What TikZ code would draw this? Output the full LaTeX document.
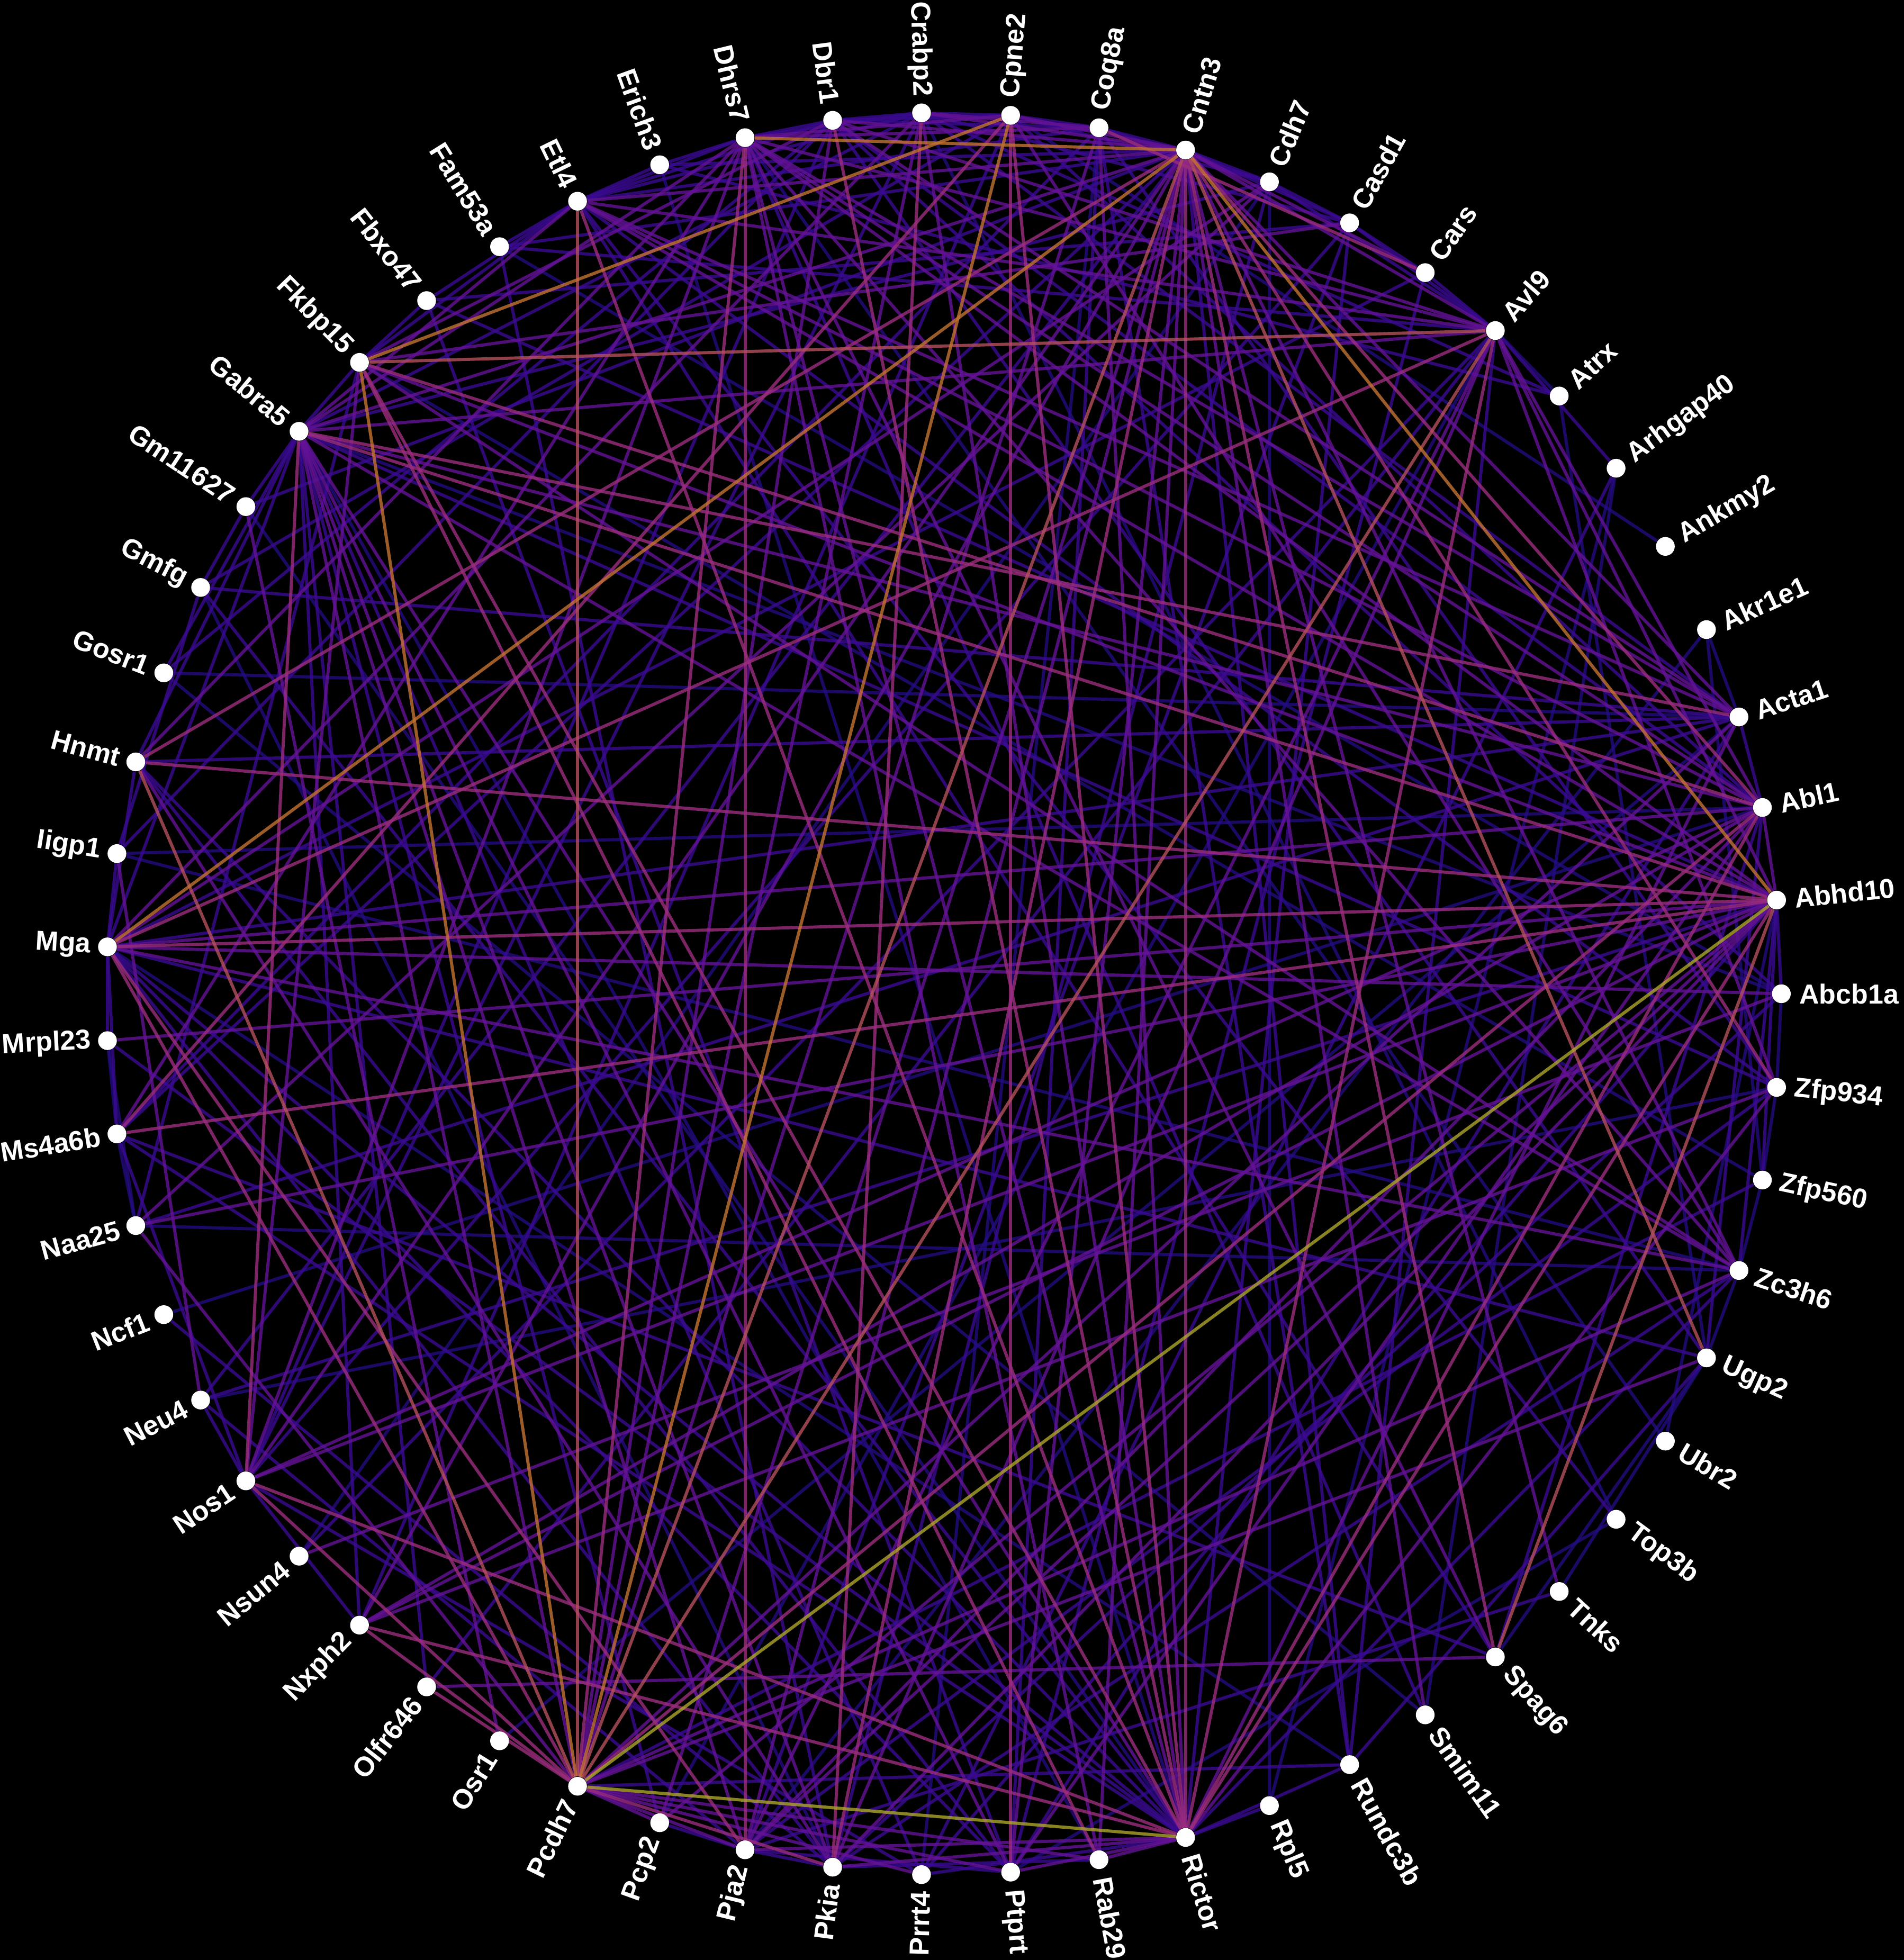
\documentclass[tikz,border=0pt]{standalone}
\usepackage{fontspec}
\setmainfont{Liberation Sans}

\definecolor{kfarbe1}{RGB}{36,12,128}
\definecolor{kfarbe2}{RGB}{58,10,145}
\definecolor{kfarbe3}{RGB}{100,18,150}
\definecolor{kfarbe4}{RGB}{155,45,125}
\definecolor{kfarbe5}{RGB}{180,80,92}
\definecolor{kfarbe6}{RGB}{196,115,50}
\definecolor{kfarbe7}{RGB}{172,166,42}

\pgfdeclarelayer{hintergrund}
\pgfdeclarelayer{kanten}
\pgfsetlayers{hintergrund,kanten,main}

\tikzset{
	punkt/.style={circle, fill=white, draw=none, inner sep=0pt, minimum size=7.5pt},
	beschriftung/.style={text=white, inner sep=0pt, font=\bfseries\fontsize{11}{13}\selectfont},
	kante/.style={line width=1.25pt, opacity=0.8},
	k1/.style={kante, draw=kfarbe1},
	k2/.style={kante, draw=kfarbe2},
	k3/.style={kante, draw=kfarbe3},
	k4/.style={kante, draw=kfarbe4},
	k5/.style={kante, draw=kfarbe5},
	k6/.style={kante, draw=kfarbe6},
	k7/.style={kante, draw=kfarbe7}
}

\begin{document}
\begin{tikzpicture}[x=0.5pt, y=0.5pt]
	\useasboundingbox (-755,-773) rectangle (768,795);
	\begin{pgfonlayer}{hintergrund}
		\fill[black] (-755,-773) rectangle (768,795);
	\end{pgfonlayer}

	% Gene im Kreis
	\foreach \gen [count=\i from 0] in {Abcb1a,Abhd10,Abl1,Acta1,Akr1e1,Ankmy2,
		Arhgap40,Atrx,Avl9,Cars,Casd1,Cdh7,Cntn3,Coq8a,Cpne2,Crabp2,Dbr1,Dhrs7,
		Erich3,Etl4,Fam53a,Fbxo47,Fkbp15,Gabra5,Gm11627,Gmfg,Gosr1,Hnmt,Iigp1,Mga,
		Mrpl23,Ms4a6b,Naa25,Ncf1,Neu4,Nos1,Nsun4,Nxph2,Olfr646,Osr1,Pcdh7,Pcp2,
		Pja2,Pkia,Prrt4,Ptprt,Rab29,Rictor,Rpl5,Rundc3b,Smim11,Spag6,Tnks,Top3b,
		Ubr2,Ugp2,Zc3h6,Zfp560,Zfp934} {
		\pgfmathsetmacro{\winkel}{\i*6.101695}
		\node[punkt] (\gen) at ({670*cos(\winkel)}, {705*sin(\winkel)}) {};
		\pgfmathtruncatemacro{\links}{(\winkel>90) && (\winkel<270)}
		\ifnum\links=1
			\pgfmathsetmacro{\dreh}{\winkel-180}
			\node[beschriftung, rotate=\dreh, anchor=east] (t\gen)
				at ({683*cos(\winkel)}, {718*sin(\winkel)}) {\gen};
		\else
			\node[beschriftung, rotate=\winkel, anchor=west] (t\gen)
				at ({684*cos(\winkel)}, {719*sin(\winkel)}) {\gen};
		\fi
	}

	\begin{pgfonlayer}{kanten}
	% schwache Kanten
	\foreach \a/\b in {Gosr1/Acta1, Atrx/Ugp2, Ubr2/Abhd10, Cdh7/Rpl5, Ankmy2/Cpne2,
		Akr1e1/Pja2, Akr1e1/Zfp560, Avl9/Atrx, Arhgap40/Rpl5, Abcb1a/Zfp934,
		Zfp560/Zc3h6, Zc3h6/Ugp2, Top3b/Ptprt, Tnks/Ugp2, Spag6/Ugp2,
		Smim11/Arhgap40, Naa25/Ms4a6b, Ms4a6b/Mrpl23, Mrpl23/Naa25, Acta1/Akr1e1,
		Zfp934/Zfp560, Iigp1/Abl1, Gm11627/Rictor, Gmfg/Pkia, Neu4/Zfp934,
		Naa25/Zc3h6, Erich3/Rictor, Fam53a/Abcb1a, Osr1/Acta1, Nsun4/Cdh7,
		Pcp2/Avl9, Prrt4/Coq8a, Rab29/Gabra5, Rundc3b/Mga, Smim11/Gosr1,
		Top3b/Crabp2, Ubr2/Dhrs7, Zfp560/Fkbp15, Abcb1a/Gabra5, Ncf1/Abl1,
		Iigp1/Zc3h6}
		\draw[k1] (\a) -- (\b);
	\foreach \a/\b in {Ugp2/Abl1, Gmfg/Acta1, Mga/Ugp2, Ms4a6b/Spag6, Nsun4/Avl9,
		Fbxo47/Abhd10, Fam53a/Pkia, Erich3/Atrx, Arhgap40/Prrt4, Rpl5/Rictor,
		Cars/Mga, Cars/Ptprt, Avl9/Rundc3b, Cntn3/Rundc3b, Cntn3/Casd1, Cntn3/Cdh7,
		Cntn3/Coq8a, Cntn3/Erich3, Cntn3/Neu4, Cntn3/Ms4a6b, Cntn3/Gm11627,
		Cntn3/Fam53a, Pcdh7/Rundc3b, Pcdh7/Zfp560, Rictor/Prrt4, Rictor/Zc3h6,
		Rictor/Rundc3b, Rictor/Mga, Rictor/Hnmt, Rictor/Casd1, Abhd10/Zc3h6,
		Abhd10/Abcb1a, Abhd10/Zfp560, Abl1/Acta1, Abl1/Cpne2, Abl1/Dbr1,
		Avl9/Casd1, Avl9/Cars, Avl9/Arhgap40, Fkbp15/Gabra5, Fkbp15/Fbxo47,
		Fkbp15/Etl4, Fkbp15/Naa25, Gabra5/Gm11627, Gabra5/Prrt4, Gabra5/Mga,
		Gabra5/Pcp2, Gabra5/Nxph2, Gabra5/Zfp934, Dhrs7/Etl4, Dhrs7/Erich3,
		Dhrs7/Dbr1, Dhrs7/Crabp2, Dhrs7/Smim11, Etl4/Erich3, Etl4/Fam53a,
		Etl4/Fbxo47, Etl4/Crabp2, Etl4/Coq8a, Etl4/Zfp934, Etl4/Spag6,
		Crabp2/Cpne2, Crabp2/Casd1, Crabp2/Atrx, Crabp2/Acta1, Crabp2/Nos1,
		Crabp2/Gabra5, Cpne2/Coq8a, Cpne2/Dbr1, Cpne2/Cdh7, Cpne2/Nxph2,
		Cpne2/Gmfg, Coq8a/Cdh7, Coq8a/Dbr1, Coq8a/Zfp934, Coq8a/Ptprt,
		Coq8a/Ms4a6b, Dbr1/Etl4, Dbr1/Crabp2, Dbr1/Ugp2, Dbr1/Nos1, Dbr1/Gosr1,
		Cdh7/Casd1, Cdh7/Avl9, Cdh7/Pkia, Cdh7/Gabra5, Casd1/Cars, Casd1/Pja2,
		Casd1/Nos1, Acta1/Ptprt, Acta1/Mga, Acta1/Naa25, Abcb1a/Pkia,
		Abcb1a/Dbr1, Zfp934/Pja2, Zc3h6/Pkia, Ugp2/Rundc3b, Top3b/Etl4,
		Tnks/Pja2, Spag6/Abl1, Rundc3b/Coq8a, Rab29/Pkia, Ptprt/Pja2,
		Ptprt/Hnmt, Prrt4/Abhd10, Prrt4/Nos1, Pkia/Pja2, Pkia/Mga, Pja2/Pcp2,
		Olfr646/Gabra5, Olfr646/Avl9, Nxph2/Nos1, Nos1/Neu4, Nos1/Ms4a6b,
		Neu4/Abhd10, Neu4/Pja2, Ncf1/Pkia, Ms4a6b/Rictor, Mrpl23/Mga,
		Mrpl23/Rictor, Mga/Hnmt, Mga/Iigp1, Mga/Ms4a6b, Mga/Ptprt, Iigp1/Gmfg,
		Iigp1/Dbr1, Hnmt/Gabra5, Hnmt/Acta1, Gosr1/Gabra5, Gmfg/Rictor,
		Gm11627/Gmfg, Fbxo47/Ptprt, Fbxo47/Casd1, Fam53a/Avl9}
		\draw[k2] (\a) -- (\b);
	% mittlere Kanten
	\foreach \a/\b in {Mga/Abcb1a, Mrpl23/Abhd10, Mga/Crabp2, Mga/Cdh7, Mga/Zc3h6,
		Ms4a6b/Dhrs7, Naa25/Cdh7, Neu4/Iigp1, Nos1/Abhd10, Nsun4/Abcb1a,
		Nxph2/Zfp934, Olfr646/Spag6, Osr1/Gm11627, Dbr1/Pcdh7, Avl9/Abl1,
		Avl9/Abhd10, Abl1/Nxph2, Ugp2/Pcdh7, Cntn3/Gabra5, Cntn3/Nos1, Cntn3/Pja2,
		Cntn3/Ptprt, Cntn3/Rab29, Cntn3/Zc3h6, Cntn3/Acta1, Cntn3/Avl9,
		Cntn3/Cpne2, Cntn3/Crabp2, Cntn3/Dbr1, Cntn3/Etl4, Cntn3/Nxph2,
		Cntn3/Smim11, Pcdh7/Pcp2, Pcdh7/Pja2, Pcdh7/Prrt4, Pcdh7/Ptprt,
		Pcdh7/Rab29, Pcdh7/Acta1, Pcdh7/Zc3h6, Pcdh7/Gabra5, Pcdh7/Crabp2,
		Pcdh7/Coq8a, Rictor/Rab29, Rictor/Ptprt, Rictor/Pkia, Rictor/Pja2,
		Rictor/Acta1, Rictor/Zfp934, Rictor/Gabra5, Rictor/Crabp2, Rictor/Dhrs7,
		Rictor/Coq8a, Abhd10/Fkbp15, Abhd10/Dhrs7, Abhd10/Etl4, Abhd10/Pja2,
		Abhd10/Pkia, Abhd10/Abl1, Abhd10/Naa25, Abhd10/Nxph2, Abl1/Mga,
		Abl1/Dhrs7, Abl1/Gabra5, Abl1/Nos1, Abl1/Pja2, Abl1/Etl4, Abl1/Ptprt,
		Avl9/Dhrs7, Avl9/Dbr1, Avl9/Etl4, Avl9/Gabra5, Avl9/Zfp934, Avl9/Pkia,
		Avl9/Pja2, Fkbp15/Casd1, Fkbp15/Zc3h6, Fkbp15/Dbr1, Gabra5/Pkia,
		Gabra5/Ptprt, Gabra5/Dhrs7, Gabra5/Etl4, Dhrs7/Cpne2, Dhrs7/Coq8a,
		Dhrs7/Spag6, Dhrs7/Zc3h6, Dhrs7/Acta1, Dhrs7/Nos1, Dhrs7/Hnmt,
		Dhrs7/Rab29, Etl4/Acta1, Crabp2/Coq8a, Cpne2/Zc3h6, Dbr1/Acta1,
		Zc3h6/Gabra5, Pkia/Hnmt, Pja2/Gabra5, Pcp2/Abhd10, Pcp2/Cntn3,
		Nos1/Fkbp15, Naa25/Pcdh7, Cars/Cntn3, Tnks/Cntn3}
		\draw[k3] (\a) -- (\b);
	\foreach \a/\b in {Cntn3/Rictor, Cpne2/Ptprt, Spag6/Cntn3, Hnmt/Abhd10,
		Mga/Abhd10, Ms4a6b/Abhd10, Hnmt/Cntn3, Mga/Avl9, Mga/Pcdh7, Mga/Pja2,
		Ms4a6b/Cpne2, Nos1/Gabra5, Nos1/Pcdh7, Nos1/Rictor, Nxph2/Pcdh7,
		Nxph2/Rictor, Olfr646/Pcdh7, Cars/Coq8a, Dhrs7/Pja2, Dhrs7/Pcdh7,
		Dbr1/Rictor, Crabp2/Pkia, Cpne2/Rictor, Avl9/Rictor, Abl1/Pcdh7,
		Fkbp15/Rictor, Fkbp15/Rab29, Fkbp15/Abl1, Gabra5/Acta1, Etl4/Rictor,
		Cntn3/Pkia, Cntn3/Zfp934, Cntn3/Abl1, Abhd10/Gabra5, Abl1/Rictor,
		Rictor/Abhd10, Pcdh7/Pkia}
		\draw[k4] (\a) -- (\b);
	% starke Kanten
	\foreach \a/\b in {Avl9/Pcdh7, Hnmt/Pcdh7, Etl4/Pcdh7, Fkbp15/Avl9,
		Cntn3/Pcdh7, Spag6/Abhd10, Ugp2/Cntn3}
		\draw[k5] (\a) -- (\b);
	\foreach \a/\b in {Mga/Cntn3, Fkbp15/Cpne2, Fkbp15/Pcdh7, Pcdh7/Cpne2,
		Dhrs7/Cntn3, Cntn3/Abhd10}
		\draw[k6] (\a) -- (\b);
	\foreach \a/\b in {Pcdh7/Rictor, Pcdh7/Abhd10}
		\draw[k7] (\a) -- (\b);
	\end{pgfonlayer}
\end{tikzpicture}
\end{document}
